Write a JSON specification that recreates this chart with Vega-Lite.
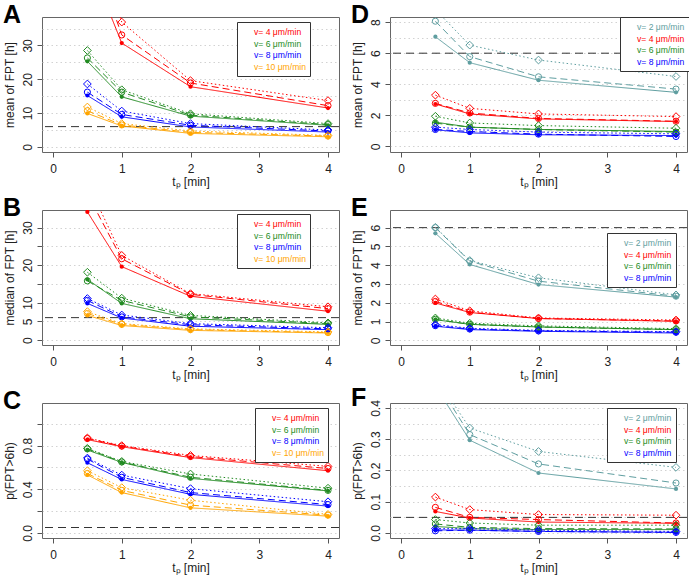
{
"$schema": "https://vega.github.io/schema/vega-lite/v6.json",
"background": "white",
"padding": {"left": 2, "top": 2, "right": 2, "bottom": 6},
"config": {
  "font": "Liberation Sans",
  "view": {"stroke": "#666", "strokeWidth": 1},
  "axis": {"domain": false, "tickColor": "#555", "tickSize": 5, "labelFontSize": 12, "labelColor": "#222", "titleFontSize": 12, "titleFontWeight": "normal", "titleColor": "#222", "gridColor": "#d2d2d2", "gridDash": [1.5, 3]},
  "axisY": {"labelAngle": 270, "labelAlign": "center", "labelBaseline": "bottom", "labelPadding": 3, "titlePadding": 5},
  "axisX": {"labelPadding": 6, "titlePadding": 2, "grid": false, "labelAngle": 0},
  "legend": {"orient": "none", "title": null, "labelFontSize": 8.6, "padding": 4, "rowPadding": 0.5, "symbolSize": 100, "labelOffset": 1, "symbolOpacity": 0, "strokeColor": "#333", "fillColor": "white"},
  "title": {"anchor": "start", "frame": "group", "offset": 0, "fontSize": 25, "fontWeight": "bold", "color": "black", "baseline": "alphabetic"}
},
"datasets": {"fpt": [
{"p":"A","v":"4","s":"solid","t":0.5,"y":56},{"p":"A","v":"4","s":"solid","t":1,"y":30.7},{"p":"A","v":"4","s":"solid","t":2,"y":17.8},{"p":"A","v":"4","s":"solid","t":4,"y":11.5},
{"p":"A","v":"4","s":"dashed","t":0.5,"y":62},{"p":"A","v":"4","s":"dashed","t":1,"y":33.1},{"p":"A","v":"4","s":"dashed","t":2,"y":18.9},{"p":"A","v":"4","s":"dashed","t":4,"y":12.2},
{"p":"A","v":"4","s":"dotted","t":0.5,"y":70},{"p":"A","v":"4","s":"dotted","t":1,"y":36.9},{"p":"A","v":"4","s":"dotted","t":2,"y":19.6},{"p":"A","v":"4","s":"dotted","t":4,"y":13.7},
{"p":"A","v":"6","s":"solid","t":0.5,"y":25.3},{"p":"A","v":"6","s":"solid","t":1,"y":14.8},{"p":"A","v":"6","s":"solid","t":2,"y":9.1},{"p":"A","v":"6","s":"solid","t":4,"y":6.4},
{"p":"A","v":"6","s":"dashed","t":0.5,"y":26.3},{"p":"A","v":"6","s":"dashed","t":1,"y":16.2},{"p":"A","v":"6","s":"dashed","t":2,"y":9.4},{"p":"A","v":"6","s":"dashed","t":4,"y":6.6},
{"p":"A","v":"6","s":"dotted","t":0.5,"y":28.5},{"p":"A","v":"6","s":"dotted","t":1,"y":16.9},{"p":"A","v":"6","s":"dotted","t":2,"y":9.8},{"p":"A","v":"6","s":"dotted","t":4,"y":6.9},
{"p":"A","v":"8","s":"solid","t":0.5,"y":15.2},{"p":"A","v":"8","s":"solid","t":1,"y":8.9},{"p":"A","v":"8","s":"solid","t":2,"y":5.9},{"p":"A","v":"8","s":"solid","t":4,"y":4.4},
{"p":"A","v":"8","s":"dashed","t":0.5,"y":16.2},{"p":"A","v":"8","s":"dashed","t":1,"y":9.6},{"p":"A","v":"8","s":"dashed","t":2,"y":6.4},{"p":"A","v":"8","s":"dashed","t":4,"y":4.7},
{"p":"A","v":"8","s":"dotted","t":0.5,"y":18.6},{"p":"A","v":"8","s":"dotted","t":1,"y":10.6},{"p":"A","v":"8","s":"dotted","t":2,"y":6.9},{"p":"A","v":"8","s":"dotted","t":4,"y":5.0},
{"p":"A","v":"10","s":"solid","t":0.5,"y":9.9},{"p":"A","v":"10","s":"solid","t":1,"y":6.2},{"p":"A","v":"10","s":"solid","t":2,"y":4.0},{"p":"A","v":"10","s":"solid","t":4,"y":3.0},
{"p":"A","v":"10","s":"dashed","t":0.5,"y":10.7},{"p":"A","v":"10","s":"dashed","t":1,"y":6.5},{"p":"A","v":"10","s":"dashed","t":2,"y":4.3},{"p":"A","v":"10","s":"dashed","t":4,"y":3.2},
{"p":"A","v":"10","s":"dotted","t":0.5,"y":11.8},{"p":"A","v":"10","s":"dotted","t":1,"y":6.9},{"p":"A","v":"10","s":"dotted","t":2,"y":4.7},{"p":"A","v":"10","s":"dotted","t":4,"y":3.4},
{"p":"B","v":"4","s":"solid","t":0.5,"y":34.2},{"p":"B","v":"4","s":"solid","t":1,"y":19.6},{"p":"B","v":"4","s":"solid","t":2,"y":11.7},{"p":"B","v":"4","s":"solid","t":4,"y":7.7},
{"p":"B","v":"4","s":"dashed","t":0.5,"y":39},{"p":"B","v":"4","s":"dashed","t":1,"y":21.7},{"p":"B","v":"4","s":"dashed","t":2,"y":12.2},{"p":"B","v":"4","s":"dashed","t":4,"y":8.4},
{"p":"B","v":"4","s":"dotted","t":0.5,"y":42},{"p":"B","v":"4","s":"dotted","t":1,"y":22.6},{"p":"B","v":"4","s":"dotted","t":2,"y":12.4},{"p":"B","v":"4","s":"dotted","t":4,"y":8.9},
{"p":"B","v":"6","s":"solid","t":0.5,"y":16.2},{"p":"B","v":"6","s":"solid","t":1,"y":9.8},{"p":"B","v":"6","s":"solid","t":2,"y":5.7},{"p":"B","v":"6","s":"solid","t":4,"y":4.2},
{"p":"B","v":"6","s":"dashed","t":0.5,"y":15.8},{"p":"B","v":"6","s":"dashed","t":1,"y":10.6},{"p":"B","v":"6","s":"dashed","t":2,"y":6.2},{"p":"B","v":"6","s":"dashed","t":4,"y":4.4},
{"p":"B","v":"6","s":"dotted","t":0.5,"y":18.1},{"p":"B","v":"6","s":"dotted","t":1,"y":11.2},{"p":"B","v":"6","s":"dotted","t":2,"y":6.6},{"p":"B","v":"6","s":"dotted","t":4,"y":4.6},
{"p":"B","v":"8","s":"solid","t":0.5,"y":9.8},{"p":"B","v":"8","s":"solid","t":1,"y":5.9},{"p":"B","v":"8","s":"solid","t":2,"y":3.7},{"p":"B","v":"8","s":"solid","t":4,"y":2.8},
{"p":"B","v":"8","s":"dashed","t":0.5,"y":10.6},{"p":"B","v":"8","s":"dashed","t":1,"y":6.2},{"p":"B","v":"8","s":"dashed","t":2,"y":4.1},{"p":"B","v":"8","s":"dashed","t":4,"y":3.0},
{"p":"B","v":"8","s":"dotted","t":0.5,"y":11.1},{"p":"B","v":"8","s":"dotted","t":1,"y":6.7},{"p":"B","v":"8","s":"dotted","t":2,"y":4.4},{"p":"B","v":"8","s":"dotted","t":4,"y":3.3},
{"p":"B","v":"10","s":"solid","t":0.5,"y":6.6},{"p":"B","v":"10","s":"solid","t":1,"y":3.9},{"p":"B","v":"10","s":"solid","t":2,"y":2.6},{"p":"B","v":"10","s":"solid","t":4,"y":1.9},
{"p":"B","v":"10","s":"dashed","t":0.5,"y":7.1},{"p":"B","v":"10","s":"dashed","t":1,"y":4.2},{"p":"B","v":"10","s":"dashed","t":2,"y":2.8},{"p":"B","v":"10","s":"dashed","t":4,"y":2.0},
{"p":"B","v":"10","s":"dotted","t":0.5,"y":7.6},{"p":"B","v":"10","s":"dotted","t":1,"y":4.4},{"p":"B","v":"10","s":"dotted","t":2,"y":3.0},{"p":"B","v":"10","s":"dotted","t":4,"y":2.2},
{"p":"C","v":"4","s":"solid","t":0.5,"y":0.855},{"p":"C","v":"4","s":"solid","t":1,"y":0.79},{"p":"C","v":"4","s":"solid","t":2,"y":0.69},{"p":"C","v":"4","s":"solid","t":4,"y":0.57},
{"p":"C","v":"4","s":"dashed","t":0.5,"y":0.865},{"p":"C","v":"4","s":"dashed","t":1,"y":0.795},{"p":"C","v":"4","s":"dashed","t":2,"y":0.70},{"p":"C","v":"4","s":"dashed","t":4,"y":0.59},
{"p":"C","v":"4","s":"dotted","t":0.5,"y":0.87},{"p":"C","v":"4","s":"dotted","t":1,"y":0.80},{"p":"C","v":"4","s":"dotted","t":2,"y":0.71},{"p":"C","v":"4","s":"dotted","t":4,"y":0.61},
{"p":"C","v":"6","s":"solid","t":0.5,"y":0.76},{"p":"C","v":"6","s":"solid","t":1,"y":0.646},{"p":"C","v":"6","s":"solid","t":2,"y":0.50},{"p":"C","v":"6","s":"solid","t":4,"y":0.385},
{"p":"C","v":"6","s":"dashed","t":0.5,"y":0.77},{"p":"C","v":"6","s":"dashed","t":1,"y":0.65},{"p":"C","v":"6","s":"dashed","t":2,"y":0.51},{"p":"C","v":"6","s":"dashed","t":4,"y":0.39},
{"p":"C","v":"6","s":"dotted","t":0.5,"y":0.775},{"p":"C","v":"6","s":"dotted","t":1,"y":0.655},{"p":"C","v":"6","s":"dotted","t":2,"y":0.54},{"p":"C","v":"6","s":"dotted","t":4,"y":0.41},
{"p":"C","v":"8","s":"solid","t":0.5,"y":0.643},{"p":"C","v":"8","s":"solid","t":1,"y":0.49},{"p":"C","v":"8","s":"solid","t":2,"y":0.354},{"p":"C","v":"8","s":"solid","t":4,"y":0.246},
{"p":"C","v":"8","s":"dashed","t":0.5,"y":0.677},{"p":"C","v":"8","s":"dashed","t":1,"y":0.51},{"p":"C","v":"8","s":"dashed","t":2,"y":0.37},{"p":"C","v":"8","s":"dashed","t":4,"y":0.26},
{"p":"C","v":"8","s":"dotted","t":0.5,"y":0.686},{"p":"C","v":"8","s":"dotted","t":1,"y":0.53},{"p":"C","v":"8","s":"dotted","t":2,"y":0.406},{"p":"C","v":"8","s":"dotted","t":4,"y":0.286},
{"p":"C","v":"10","s":"solid","t":0.5,"y":0.532},{"p":"C","v":"10","s":"solid","t":1,"y":0.37},{"p":"C","v":"10","s":"solid","t":2,"y":0.23},{"p":"C","v":"10","s":"solid","t":4,"y":0.154},
{"p":"C","v":"10","s":"dashed","t":0.5,"y":0.545},{"p":"C","v":"10","s":"dashed","t":1,"y":0.39},{"p":"C","v":"10","s":"dashed","t":2,"y":0.255},{"p":"C","v":"10","s":"dashed","t":4,"y":0.163},
{"p":"C","v":"10","s":"dotted","t":0.5,"y":0.57},{"p":"C","v":"10","s":"dotted","t":1,"y":0.415},{"p":"C","v":"10","s":"dotted","t":2,"y":0.30},{"p":"C","v":"10","s":"dotted","t":4,"y":0.17},
{"p":"D","v":"2","s":"solid","t":0.5,"y":7.06},{"p":"D","v":"2","s":"solid","t":1,"y":5.39},{"p":"D","v":"2","s":"solid","t":2,"y":4.26},{"p":"D","v":"2","s":"solid","t":4,"y":3.48},
{"p":"D","v":"2","s":"dashed","t":0.5,"y":8.06},{"p":"D","v":"2","s":"dashed","t":1,"y":5.78},{"p":"D","v":"2","s":"dashed","t":2,"y":4.48},{"p":"D","v":"2","s":"dashed","t":4,"y":3.69},
{"p":"D","v":"2","s":"dotted","t":0.5,"y":8.8},{"p":"D","v":"2","s":"dotted","t":1,"y":6.52},{"p":"D","v":"2","s":"dotted","t":2,"y":5.56},{"p":"D","v":"2","s":"dotted","t":4,"y":4.5},
{"p":"D","v":"4","s":"solid","t":0.5,"y":2.73},{"p":"D","v":"4","s":"solid","t":1,"y":2.09},{"p":"D","v":"4","s":"solid","t":2,"y":1.77},{"p":"D","v":"4","s":"solid","t":4,"y":1.6},
{"p":"D","v":"4","s":"dashed","t":0.5,"y":2.77},{"p":"D","v":"4","s":"dashed","t":1,"y":2.15},{"p":"D","v":"4","s":"dashed","t":2,"y":1.8},{"p":"D","v":"4","s":"dashed","t":4,"y":1.62},
{"p":"D","v":"4","s":"dotted","t":0.5,"y":3.3},{"p":"D","v":"4","s":"dotted","t":1,"y":2.45},{"p":"D","v":"4","s":"dotted","t":2,"y":2.09},{"p":"D","v":"4","s":"dotted","t":4,"y":1.92},
{"p":"D","v":"6","s":"solid","t":0.5,"y":1.56},{"p":"D","v":"6","s":"solid","t":1,"y":1.24},{"p":"D","v":"6","s":"solid","t":2,"y":1.09},{"p":"D","v":"6","s":"solid","t":4,"y":0.96},
{"p":"D","v":"6","s":"dashed","t":0.5,"y":1.5},{"p":"D","v":"6","s":"dashed","t":1,"y":1.24},{"p":"D","v":"6","s":"dashed","t":2,"y":1.09},{"p":"D","v":"6","s":"dashed","t":4,"y":0.92},
{"p":"D","v":"6","s":"dotted","t":0.5,"y":1.94},{"p":"D","v":"6","s":"dotted","t":1,"y":1.51},{"p":"D","v":"6","s":"dotted","t":2,"y":1.34},{"p":"D","v":"6","s":"dotted","t":4,"y":1.17},
{"p":"D","v":"8","s":"solid","t":0.5,"y":1.07},{"p":"D","v":"8","s":"solid","t":1,"y":0.87},{"p":"D","v":"8","s":"solid","t":2,"y":0.75},{"p":"D","v":"8","s":"solid","t":4,"y":0.7},
{"p":"D","v":"8","s":"dashed","t":0.5,"y":1.09},{"p":"D","v":"8","s":"dashed","t":1,"y":0.96},{"p":"D","v":"8","s":"dashed","t":2,"y":0.79},{"p":"D","v":"8","s":"dashed","t":4,"y":0.64},
{"p":"D","v":"8","s":"dotted","t":0.5,"y":1.24},{"p":"D","v":"8","s":"dotted","t":1,"y":1.09},{"p":"D","v":"8","s":"dotted","t":2,"y":0.92},{"p":"D","v":"8","s":"dotted","t":4,"y":0.81},
{"p":"E","v":"2","s":"solid","t":0.5,"y":5.70},{"p":"E","v":"2","s":"solid","t":1,"y":4.04},{"p":"E","v":"2","s":"solid","t":2,"y":2.97},{"p":"E","v":"2","s":"solid","t":4,"y":2.30},
{"p":"E","v":"2","s":"dashed","t":0.5,"y":6.0},{"p":"E","v":"2","s":"dashed","t":1,"y":4.22},{"p":"E","v":"2","s":"dashed","t":2,"y":3.15},{"p":"E","v":"2","s":"dashed","t":4,"y":2.35},
{"p":"E","v":"2","s":"dotted","t":0.5,"y":6.02},{"p":"E","v":"2","s":"dotted","t":1,"y":4.25},{"p":"E","v":"2","s":"dotted","t":2,"y":3.33},{"p":"E","v":"2","s":"dotted","t":4,"y":2.42},
{"p":"E","v":"4","s":"solid","t":0.5,"y":1.99},{"p":"E","v":"4","s":"solid","t":1,"y":1.48},{"p":"E","v":"4","s":"solid","t":2,"y":1.16},{"p":"E","v":"4","s":"solid","t":4,"y":1.01},
{"p":"E","v":"4","s":"dashed","t":0.5,"y":2.07},{"p":"E","v":"4","s":"dashed","t":1,"y":1.50},{"p":"E","v":"4","s":"dashed","t":2,"y":1.16},{"p":"E","v":"4","s":"dashed","t":4,"y":1.03},
{"p":"E","v":"4","s":"dotted","t":0.5,"y":2.2},{"p":"E","v":"4","s":"dotted","t":1,"y":1.57},{"p":"E","v":"4","s":"dotted","t":2,"y":1.19},{"p":"E","v":"4","s":"dotted","t":4,"y":1.08},
{"p":"E","v":"6","s":"solid","t":0.5,"y":1.10},{"p":"E","v":"6","s":"solid","t":1,"y":0.85},{"p":"E","v":"6","s":"solid","t":2,"y":0.71},{"p":"E","v":"6","s":"solid","t":4,"y":0.57},
{"p":"E","v":"6","s":"dashed","t":0.5,"y":1.12},{"p":"E","v":"6","s":"dashed","t":1,"y":0.85},{"p":"E","v":"6","s":"dashed","t":2,"y":0.71},{"p":"E","v":"6","s":"dashed","t":4,"y":0.57},
{"p":"E","v":"6","s":"dotted","t":0.5,"y":1.19},{"p":"E","v":"6","s":"dotted","t":1,"y":0.91},{"p":"E","v":"6","s":"dotted","t":2,"y":0.77},{"p":"E","v":"6","s":"dotted","t":4,"y":0.62},
{"p":"E","v":"8","s":"solid","t":0.5,"y":0.75},{"p":"E","v":"8","s":"solid","t":1,"y":0.57},{"p":"E","v":"8","s":"solid","t":2,"y":0.48},{"p":"E","v":"8","s":"solid","t":4,"y":0.39},
{"p":"E","v":"8","s":"dashed","t":0.5,"y":0.78},{"p":"E","v":"8","s":"dashed","t":1,"y":0.6},{"p":"E","v":"8","s":"dashed","t":2,"y":0.5},{"p":"E","v":"8","s":"dashed","t":4,"y":0.43},
{"p":"E","v":"8","s":"dotted","t":0.5,"y":0.84},{"p":"E","v":"8","s":"dotted","t":1,"y":0.64},{"p":"E","v":"8","s":"dotted","t":2,"y":0.53},{"p":"E","v":"8","s":"dotted","t":4,"y":0.46},
{"p":"F","v":"2","s":"solid","t":0.5,"y":0.47},{"p":"F","v":"2","s":"solid","t":1,"y":0.297},{"p":"F","v":"2","s":"solid","t":2,"y":0.192},{"p":"F","v":"2","s":"solid","t":4,"y":0.141},
{"p":"F","v":"2","s":"dashed","t":0.5,"y":0.49},{"p":"F","v":"2","s":"dashed","t":1,"y":0.315},{"p":"F","v":"2","s":"dashed","t":2,"y":0.221},{"p":"F","v":"2","s":"dashed","t":4,"y":0.16},
{"p":"F","v":"2","s":"dotted","t":0.5,"y":0.50},{"p":"F","v":"2","s":"dotted","t":1,"y":0.336},{"p":"F","v":"2","s":"dotted","t":2,"y":0.261},{"p":"F","v":"2","s":"dotted","t":4,"y":0.21},
{"p":"F","v":"4","s":"solid","t":0.5,"y":0.069},{"p":"F","v":"4","s":"solid","t":1,"y":0.048},{"p":"F","v":"4","s":"solid","t":2,"y":0.035},{"p":"F","v":"4","s":"solid","t":4,"y":0.031},
{"p":"F","v":"4","s":"dashed","t":0.5,"y":0.082},{"p":"F","v":"4","s":"dashed","t":1,"y":0.05},{"p":"F","v":"4","s":"dashed","t":2,"y":0.043},{"p":"F","v":"4","s":"dashed","t":4,"y":0.032},
{"p":"F","v":"4","s":"dotted","t":0.5,"y":0.115},{"p":"F","v":"4","s":"dotted","t":1,"y":0.075},{"p":"F","v":"4","s":"dotted","t":2,"y":0.059},{"p":"F","v":"4","s":"dotted","t":4,"y":0.057},
{"p":"F","v":"6","s":"solid","t":0.5,"y":0.021},{"p":"F","v":"6","s":"solid","t":1,"y":0.014},{"p":"F","v":"6","s":"solid","t":2,"y":0.011},{"p":"F","v":"6","s":"solid","t":4,"y":0.011},
{"p":"F","v":"6","s":"dashed","t":0.5,"y":0.029},{"p":"F","v":"6","s":"dashed","t":1,"y":0.018},{"p":"F","v":"6","s":"dashed","t":2,"y":0.014},{"p":"F","v":"6","s":"dashed","t":4,"y":0.013},
{"p":"F","v":"6","s":"dotted","t":0.5,"y":0.043},{"p":"F","v":"6","s":"dotted","t":1,"y":0.032},{"p":"F","v":"6","s":"dotted","t":2,"y":0.025},{"p":"F","v":"6","s":"dotted","t":4,"y":0.025},
{"p":"F","v":"8","s":"solid","t":0.5,"y":0.01},{"p":"F","v":"8","s":"solid","t":1,"y":0.009},{"p":"F","v":"8","s":"solid","t":2,"y":0.005},{"p":"F","v":"8","s":"solid","t":4,"y":0.002},
{"p":"F","v":"8","s":"dashed","t":0.5,"y":0.007},{"p":"F","v":"8","s":"dashed","t":1,"y":0.009},{"p":"F","v":"8","s":"dashed","t":2,"y":0.005},{"p":"F","v":"8","s":"dashed","t":4,"y":0.002},
{"p":"F","v":"8","s":"dotted","t":0.5,"y":0.014},{"p":"F","v":"8","s":"dotted","t":1,"y":0.014},{"p":"F","v":"8","s":"dotted","t":2,"y":0.009},{"p":"F","v":"8","s":"dotted","t":4,"y":0.005}
]},
"columns": 2,
"bounds": "flush",
"spacing": {"row": 58, "column": 51},
"resolve": {"scale": {"x": "independent", "y": "independent", "color": "independent"}, "legend": {"color": "independent"}},
"concat": [
{"width": 297, "height": 135, "title": {"text": "A", "dx": -39, "dy": 15},
 "encoding": {
  "y": {"field": "y", "type": "quantitative", "title": "mean of FPT [h]", "scale": {"domain": [-1.5, 38.4], "nice": false, "zero": false},
        "axis": {"values": [0, 5, 10, 15, 20, 25, 30, 35], "labelExpr": "indexof([0,10,20,30], datum.value) >= 0 ? datum.label : ''", "tickOpacity": {"condition": {"test": "indexof([0,10,20,30], datum.value) >= 0", "value": 1}, "value": 0}}},
  "color": {"field": "v", "type": "nominal", "scale": {"domain": ["2","4","6","8","10"], "range": ["#5f9ea0","#ff0000","#228b22","#0000ff","#ffa500"]},
        "legend": {"values": ["4","6","8","10"], "legendX": 195, "legendY": 5, "labelExpr": "'v= ' + datum.label + ' μm/min'",
                   "encode": {"labels": {"update": {"fill": {"signal": "datum.value==='2'?'#5f9ea0':datum.value==='4'?'#ff0000':datum.value==='6'?'#228b22':datum.value==='8'?'#0000ff':'#ffa500'"}}}, "symbols": {"update": {"opacity": {"value": 0}}}}}}
 },
 "layer": [
  {"data": {"values": [{"y": 6}]}, "mark": {"type": "rule", "strokeDash": [8, 5], "strokeWidth": 1}, "encoding": {"color": {"value": "#333"}}},
  {"data": {"name": "fpt"}, "transform": [{"filter": "datum.p === 'A'"}], "mark": {"type": "line", "clip": true, "strokeWidth": 1},
   "encoding": {"x": {"field": "t", "type": "quantitative", "title": "tₚ [min]", "scale": {"domain": [-0.16, 4.16], "nice": false, "zero": false}, "axis": {"values": [0,1,2,3,4]}},
                "strokeDash": {"field": "s", "type": "nominal", "scale": {"domain": ["solid","dashed","dotted"], "range": [[1,0],[7,4],[1.5,2.5]]}, "legend": null}}},
  {"data": {"name": "fpt"}, "transform": [{"filter": "datum.p === 'A' && datum.s === 'solid'"}], "mark": {"type": "point", "filled": true, "shape": "circle", "size": 18, "opacity": 1, "clip": true},
   "encoding": {"x": {"field": "t", "type": "quantitative", "title": "tₚ [min]", "scale": {"domain": [-0.16, 4.16], "nice": false, "zero": false}, "axis": {"values": [0,1,2,3,4]}}}},
  {"data": {"name": "fpt"}, "transform": [{"filter": "datum.p === 'A' && datum.s !== 'solid'"}], "mark": {"type": "point", "filled": false, "opacity": 1, "strokeWidth": 1, "clip": true},
   "encoding": {"x": {"field": "t", "type": "quantitative", "title": "tₚ [min]", "scale": {"domain": [-0.16, 4.16], "nice": false, "zero": false}, "axis": {"values": [0,1,2,3,4]}},
                "shape": {"field": "s", "type": "nominal", "scale": {"domain": ["dashed","dotted"], "range": ["circle","diamond"]}, "legend": null},
                "size": {"field": "s", "type": "ordinal", "scale": {"domain": ["dashed","dotted"], "range": [38, 60]}, "legend": null}}}
 ]},
{"width": 297, "height": 135, "title": {"text": "D", "dx": -39, "dy": 15},
 "encoding": {
  "y": {"field": "y", "type": "quantitative", "title": "mean of FPT [h]", "scale": {"domain": [-0.36, 8.33], "nice": false, "zero": false},
        "axis": {"values": [0,1,2,3,4,5,6,7,8], "labelExpr": "indexof([0,2,4,6,8], datum.value) >= 0 ? datum.label : ''", "tickOpacity": {"condition": {"test": "indexof([0,2,4,6,8], datum.value) >= 0", "value": 1}, "value": 0}}},
  "color": {"field": "v", "type": "nominal", "scale": {"domain": ["2","4","6","8","10"], "range": ["#5f9ea0","#ff0000","#228b22","#0000ff","#ffa500"]},
        "legend": {"values": ["2","4","6","8"], "legendX": 230, "legendY": 0, "labelExpr": "'v= ' + datum.label + ' μm/min'",
                   "encode": {"labels": {"update": {"fill": {"signal": "datum.value==='2'?'#5f9ea0':datum.value==='4'?'#ff0000':datum.value==='6'?'#228b22':datum.value==='8'?'#0000ff':'#ffa500'"}}}, "symbols": {"update": {"opacity": {"value": 0}}}}}}
 },
 "layer": [
  {"data": {"values": [{"y": 6}]}, "mark": {"type": "rule", "strokeDash": [8, 5], "strokeWidth": 1}, "encoding": {"color": {"value": "#333"}}},
  {"data": {"name": "fpt"}, "transform": [{"filter": "datum.p === 'D'"}], "mark": {"type": "line", "clip": true, "strokeWidth": 1},
   "encoding": {"x": {"field": "t", "type": "quantitative", "title": "tₚ [min]", "scale": {"domain": [-0.16, 4.16], "nice": false, "zero": false}, "axis": {"values": [0,1,2,3,4]}},
                "strokeDash": {"field": "s", "type": "nominal", "scale": {"domain": ["solid","dashed","dotted"], "range": [[1,0],[7,4],[1.5,2.5]]}, "legend": null}}},
  {"data": {"name": "fpt"}, "transform": [{"filter": "datum.p === 'D' && datum.s === 'solid'"}], "mark": {"type": "point", "filled": true, "shape": "circle", "size": 18, "opacity": 1, "clip": true},
   "encoding": {"x": {"field": "t", "type": "quantitative", "title": "tₚ [min]", "scale": {"domain": [-0.16, 4.16], "nice": false, "zero": false}, "axis": {"values": [0,1,2,3,4]}}}},
  {"data": {"name": "fpt"}, "transform": [{"filter": "datum.p === 'D' && datum.s !== 'solid'"}], "mark": {"type": "point", "filled": false, "opacity": 1, "strokeWidth": 1, "clip": true},
   "encoding": {"x": {"field": "t", "type": "quantitative", "title": "tₚ [min]", "scale": {"domain": [-0.16, 4.16], "nice": false, "zero": false}, "axis": {"values": [0,1,2,3,4]}},
                "shape": {"field": "s", "type": "nominal", "scale": {"domain": ["dashed","dotted"], "range": ["circle","diamond"]}, "legend": null},
                "size": {"field": "s", "type": "ordinal", "scale": {"domain": ["dashed","dotted"], "range": [38, 60]}, "legend": null}}}
 ]},
{"width": 297, "height": 135, "title": {"text": "B", "dx": -39, "dy": 15},
 "encoding": {
  "y": {"field": "y", "type": "quantitative", "title": "median of FPT [h]", "scale": {"domain": [-1.3, 34.7], "nice": false, "zero": false},
        "axis": {"values": [0, 5, 10, 15, 20, 25, 30], "labelExpr": "indexof([0,5,10,20,30], datum.value) >= 0 ? datum.label : ''"}},
  "color": {"field": "v", "type": "nominal", "scale": {"domain": ["2","4","6","8","10"], "range": ["#5f9ea0","#ff0000","#228b22","#0000ff","#ffa500"]},
        "legend": {"values": ["4","6","8","10"], "legendX": 195, "legendY": 4, "labelExpr": "'v= ' + datum.label + ' μm/min'",
                   "encode": {"labels": {"update": {"fill": {"signal": "datum.value==='2'?'#5f9ea0':datum.value==='4'?'#ff0000':datum.value==='6'?'#228b22':datum.value==='8'?'#0000ff':'#ffa500'"}}}, "symbols": {"update": {"opacity": {"value": 0}}}}}}
 },
 "layer": [
  {"data": {"values": [{"y": 6}]}, "mark": {"type": "rule", "strokeDash": [8, 5], "strokeWidth": 1}, "encoding": {"color": {"value": "#333"}}},
  {"data": {"name": "fpt"}, "transform": [{"filter": "datum.p === 'B'"}], "mark": {"type": "line", "clip": true, "strokeWidth": 1},
   "encoding": {"x": {"field": "t", "type": "quantitative", "title": "tₚ [min]", "scale": {"domain": [-0.16, 4.16], "nice": false, "zero": false}, "axis": {"values": [0,1,2,3,4]}},
                "strokeDash": {"field": "s", "type": "nominal", "scale": {"domain": ["solid","dashed","dotted"], "range": [[1,0],[7,4],[1.5,2.5]]}, "legend": null}}},
  {"data": {"name": "fpt"}, "transform": [{"filter": "datum.p === 'B' && datum.s === 'solid'"}], "mark": {"type": "point", "filled": true, "shape": "circle", "size": 18, "opacity": 1, "clip": true},
   "encoding": {"x": {"field": "t", "type": "quantitative", "title": "tₚ [min]", "scale": {"domain": [-0.16, 4.16], "nice": false, "zero": false}, "axis": {"values": [0,1,2,3,4]}}}},
  {"data": {"name": "fpt"}, "transform": [{"filter": "datum.p === 'B' && datum.s !== 'solid'"}], "mark": {"type": "point", "filled": false, "opacity": 1, "strokeWidth": 1, "clip": true},
   "encoding": {"x": {"field": "t", "type": "quantitative", "title": "tₚ [min]", "scale": {"domain": [-0.16, 4.16], "nice": false, "zero": false}, "axis": {"values": [0,1,2,3,4]}},
                "shape": {"field": "s", "type": "nominal", "scale": {"domain": ["dashed","dotted"], "range": ["circle","diamond"]}, "legend": null},
                "size": {"field": "s", "type": "ordinal", "scale": {"domain": ["dashed","dotted"], "range": [38, 60]}, "legend": null}}}
 ]},
{"width": 297, "height": 135, "title": {"text": "E", "dx": -39, "dy": 15},
 "encoding": {
  "y": {"field": "y", "type": "quantitative", "title": "median of FPT [h]", "scale": {"domain": [-0.25, 6.94], "nice": false, "zero": false},
        "axis": {"values": [0,1,2,3,4,5,6]}},
  "color": {"field": "v", "type": "nominal", "scale": {"domain": ["2","4","6","8","10"], "range": ["#5f9ea0","#ff0000","#228b22","#0000ff","#ffa500"]},
        "legend": {"values": ["2","4","6","8"], "legendX": 217, "legendY": 23, "labelExpr": "'v= ' + datum.label + ' μm/min'",
                   "encode": {"labels": {"update": {"fill": {"signal": "datum.value==='2'?'#5f9ea0':datum.value==='4'?'#ff0000':datum.value==='6'?'#228b22':datum.value==='8'?'#0000ff':'#ffa500'"}}}, "symbols": {"update": {"opacity": {"value": 0}}}}}}
 },
 "layer": [
  {"data": {"values": [{"y": 6}]}, "mark": {"type": "rule", "strokeDash": [8, 5], "strokeWidth": 1}, "encoding": {"color": {"value": "#333"}}},
  {"data": {"name": "fpt"}, "transform": [{"filter": "datum.p === 'E'"}], "mark": {"type": "line", "clip": true, "strokeWidth": 1},
   "encoding": {"x": {"field": "t", "type": "quantitative", "title": "tₚ [min]", "scale": {"domain": [-0.16, 4.16], "nice": false, "zero": false}, "axis": {"values": [0,1,2,3,4]}},
                "strokeDash": {"field": "s", "type": "nominal", "scale": {"domain": ["solid","dashed","dotted"], "range": [[1,0],[7,4],[1.5,2.5]]}, "legend": null}}},
  {"data": {"name": "fpt"}, "transform": [{"filter": "datum.p === 'E' && datum.s === 'solid'"}], "mark": {"type": "point", "filled": true, "shape": "circle", "size": 18, "opacity": 1, "clip": true},
   "encoding": {"x": {"field": "t", "type": "quantitative", "title": "tₚ [min]", "scale": {"domain": [-0.16, 4.16], "nice": false, "zero": false}, "axis": {"values": [0,1,2,3,4]}}}},
  {"data": {"name": "fpt"}, "transform": [{"filter": "datum.p === 'E' && datum.s !== 'solid'"}], "mark": {"type": "point", "filled": false, "opacity": 1, "strokeWidth": 1, "clip": true},
   "encoding": {"x": {"field": "t", "type": "quantitative", "title": "tₚ [min]", "scale": {"domain": [-0.16, 4.16], "nice": false, "zero": false}, "axis": {"values": [0,1,2,3,4]}},
                "shape": {"field": "s", "type": "nominal", "scale": {"domain": ["dashed","dotted"], "range": ["circle","diamond"]}, "legend": null},
                "size": {"field": "s", "type": "ordinal", "scale": {"domain": ["dashed","dotted"], "range": [38, 60]}, "legend": null}}}
 ]},
{"width": 297, "height": 135, "title": {"text": "C", "dx": -39, "dy": 15},
 "encoding": {
  "y": {"field": "y", "type": "quantitative", "title": "p(FPT>6h)", "scale": {"domain": [-0.046, 1.19], "nice": false, "zero": false},
        "axis": {"values": [0, 0.2, 0.4, 0.6, 0.8, 1], "format": ".1f", "labelExpr": "indexof([0,0.4,0.8], datum.value) >= 0 ? datum.label : ''"}},
  "color": {"field": "v", "type": "nominal", "scale": {"domain": ["2","4","6","8","10"], "range": ["#5f9ea0","#ff0000","#228b22","#0000ff","#ffa500"]},
        "legend": {"values": ["4","6","8","10"], "legendX": 213, "legendY": 5, "labelExpr": "'v= ' + datum.label + ' μm/min'",
                   "encode": {"labels": {"update": {"fill": {"signal": "datum.value==='2'?'#5f9ea0':datum.value==='4'?'#ff0000':datum.value==='6'?'#228b22':datum.value==='8'?'#0000ff':'#ffa500'"}}}, "symbols": {"update": {"opacity": {"value": 0}}}}}}
 },
 "layer": [
  {"data": {"values": [{"y": 0.05}]}, "mark": {"type": "rule", "strokeDash": [8, 5], "strokeWidth": 1}, "encoding": {"color": {"value": "#333"}}},
  {"data": {"name": "fpt"}, "transform": [{"filter": "datum.p === 'C'"}], "mark": {"type": "line", "clip": true, "strokeWidth": 1},
   "encoding": {"x": {"field": "t", "type": "quantitative", "title": "tₚ [min]", "scale": {"domain": [-0.16, 4.16], "nice": false, "zero": false}, "axis": {"values": [0,1,2,3,4]}},
                "strokeDash": {"field": "s", "type": "nominal", "scale": {"domain": ["solid","dashed","dotted"], "range": [[1,0],[7,4],[1.5,2.5]]}, "legend": null}}},
  {"data": {"name": "fpt"}, "transform": [{"filter": "datum.p === 'C' && datum.s === 'solid'"}], "mark": {"type": "point", "filled": true, "shape": "circle", "size": 18, "opacity": 1, "clip": true},
   "encoding": {"x": {"field": "t", "type": "quantitative", "title": "tₚ [min]", "scale": {"domain": [-0.16, 4.16], "nice": false, "zero": false}, "axis": {"values": [0,1,2,3,4]}}}},
  {"data": {"name": "fpt"}, "transform": [{"filter": "datum.p === 'C' && datum.s !== 'solid'"}], "mark": {"type": "point", "filled": false, "opacity": 1, "strokeWidth": 1, "clip": true},
   "encoding": {"x": {"field": "t", "type": "quantitative", "title": "tₚ [min]", "scale": {"domain": [-0.16, 4.16], "nice": false, "zero": false}, "axis": {"values": [0,1,2,3,4]}},
                "shape": {"field": "s", "type": "nominal", "scale": {"domain": ["dashed","dotted"], "range": ["circle","diamond"]}, "legend": null},
                "size": {"field": "s", "type": "ordinal", "scale": {"domain": ["dashed","dotted"], "range": [38, 60]}, "legend": null}}}
 ]},
{"width": 297, "height": 135, "title": {"text": "F", "dx": -39, "dy": 15},
 "encoding": {
  "y": {"field": "y", "type": "quantitative", "title": "p(FPT>6h)", "scale": {"domain": [-0.016, 0.416], "nice": false, "zero": false},
        "axis": {"values": [0, 0.05, 0.1, 0.15, 0.2, 0.25, 0.3, 0.35, 0.4], "format": ".1f", "labelExpr": "indexof([0,0.1,0.2,0.3,0.4], datum.value) >= 0 ? datum.label : ''", "tickOpacity": {"condition": {"test": "indexof([0,0.1,0.2,0.3,0.4], datum.value) >= 0", "value": 1}, "value": 0}}},
  "color": {"field": "v", "type": "nominal", "scale": {"domain": ["2","4","6","8","10"], "range": ["#5f9ea0","#ff0000","#228b22","#0000ff","#ffa500"]},
        "legend": {"values": ["2","4","6","8"], "legendX": 217, "legendY": 5, "labelExpr": "'v= ' + datum.label + ' μm/min'",
                   "encode": {"labels": {"update": {"fill": {"signal": "datum.value==='2'?'#5f9ea0':datum.value==='4'?'#ff0000':datum.value==='6'?'#228b22':datum.value==='8'?'#0000ff':'#ffa500'"}}}, "symbols": {"update": {"opacity": {"value": 0}}}}}}
 },
 "layer": [
  {"data": {"values": [{"y": 0.05}]}, "mark": {"type": "rule", "strokeDash": [8, 5], "strokeWidth": 1}, "encoding": {"color": {"value": "#333"}}},
  {"data": {"name": "fpt"}, "transform": [{"filter": "datum.p === 'F'"}], "mark": {"type": "line", "clip": true, "strokeWidth": 1},
   "encoding": {"x": {"field": "t", "type": "quantitative", "title": "tₚ [min]", "scale": {"domain": [-0.16, 4.16], "nice": false, "zero": false}, "axis": {"values": [0,1,2,3,4]}},
                "strokeDash": {"field": "s", "type": "nominal", "scale": {"domain": ["solid","dashed","dotted"], "range": [[1,0],[7,4],[1.5,2.5]]}, "legend": null}}},
  {"data": {"name": "fpt"}, "transform": [{"filter": "datum.p === 'F' && datum.s === 'solid'"}], "mark": {"type": "point", "filled": true, "shape": "circle", "size": 18, "opacity": 1, "clip": true},
   "encoding": {"x": {"field": "t", "type": "quantitative", "title": "tₚ [min]", "scale": {"domain": [-0.16, 4.16], "nice": false, "zero": false}, "axis": {"values": [0,1,2,3,4]}}}},
  {"data": {"name": "fpt"}, "transform": [{"filter": "datum.p === 'F' && datum.s !== 'solid'"}], "mark": {"type": "point", "filled": false, "opacity": 1, "strokeWidth": 1, "clip": true},
   "encoding": {"x": {"field": "t", "type": "quantitative", "title": "tₚ [min]", "scale": {"domain": [-0.16, 4.16], "nice": false, "zero": false}, "axis": {"values": [0,1,2,3,4]}},
                "shape": {"field": "s", "type": "nominal", "scale": {"domain": ["dashed","dotted"], "range": ["circle","diamond"]}, "legend": null},
                "size": {"field": "s", "type": "ordinal", "scale": {"domain": ["dashed","dotted"], "range": [38, 60]}, "legend": null}}}
 ]}
]
}
